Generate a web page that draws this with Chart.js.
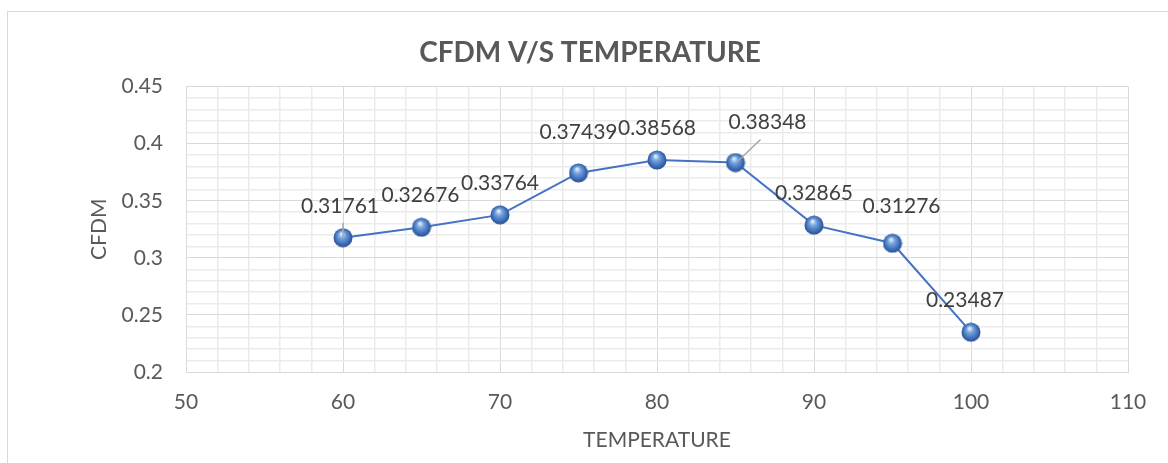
<!DOCTYPE html>
<html>
<head>
<meta charset="utf-8">
<script src="https://cdn.jsdelivr.net/npm/chart.js@4"></script>
<style>
  html, body { margin: 0; padding: 0; background: #fff; }
  #wrap { width: 1168px; height: 463px; }
</style>
</head>
<body>
<div id="wrap"><canvas id="cfdmChart" width="1168" height="463"></canvas></div>
<script>
const temperatures = [60, 65, 70, 75, 80, 85, 90, 95, 100];
const cfdmValues = [0.31761, 0.32676, 0.33764, 0.37439, 0.38568, 0.38348, 0.32865, 0.31276, 0.23487];
const valueLabels = ["0.31761", "0.32676", "0.33764", "0.37439", "0.38568", "0.38348", "0.32865", "0.31276", "0.23487"];

// label nudges (px) where Excel moved a label off its default spot
const labelNudge = [[-3, 0], [-1, 0], [0, 0], [0, -9], [0, 0], [32, -8], [0, 0], [9, -5], [-6, 0]];
const leaderIdx = [0, 5];

const FONT = "Lato, 'Open Sans', sans-serif";
const TEXT = "#595959";

function makeSphere(size) {
  const c = document.createElement("canvas");
  c.width = size; c.height = size;
  const g = c.getContext("2d");
  const r = size / 2;
  const grad = g.createRadialGradient(r * 0.85, r * 0.6, 0.5, r, r, r);
  grad.addColorStop(0, "#e6f0fc");
  grad.addColorStop(0.3, "#78a6e0");
  grad.addColorStop(0.75, "#3a6bb4");
  grad.addColorStop(1, "#264c88");
  g.fillStyle = grad;
  g.beginPath();
  g.arc(r, r, r - 0.5, 0, Math.PI * 2);
  g.fill();
  return c;
}

const frame = {
  id: "frame",
  beforeDraw(chart) {
    const ctx = chart.ctx;
    ctx.save();
    ctx.strokeStyle = "#d9d9d9";
    ctx.lineWidth = 1;
    ctx.strokeRect(7.5, 11.5, 1300, 600);
    ctx.restore();
  }
};

const dataLabels = {
  id: "dataLabels",
  afterDatasetsDraw(chart) {
    const ctx = chart.ctx;
    const pts = chart.getDatasetMeta(0).data;
    ctx.save();
    ctx.font = "21px " + FONT;
    ctx.fillStyle = "#404040";
    ctx.textAlign = "center";
    ctx.textBaseline = "middle";
    pts.forEach((p, i) => {
      const lx = p.x + labelNudge[i][0];
      const ly = p.y - 32 + labelNudge[i][1];
      if (leaderIdx.includes(i)) {
        ctx.strokeStyle = "#a6a6a6";
        ctx.lineWidth = 1.5;
        ctx.beginPath();
        if (i === 0) {
          ctx.moveTo(p.x, ly + 17);
          ctx.lineTo(p.x, p.y);
        } else {
          ctx.moveTo(lx - 7, ly + 17);
          ctx.lineTo(p.x + 2, p.y - 1);
        }
        ctx.stroke();
      }
      ctx.fillText(valueLabels[i], lx, ly);
    });
    ctx.restore();
  }
};

const isMajorX = v => Math.round(v) % 10 === 0;
const isMajorY = v => Math.round(v * 100) % 5 === 0;

new Chart(document.getElementById("cfdmChart").getContext("2d"), {
  type: "scatter",
  data: {
    datasets: [{
      label: "CFDM",
      data: temperatures.map((t, i) => ({ x: t, y: cfdmValues[i] })),
      showLine: true,
      borderColor: "#4472c4",
      borderWidth: 2,
      pointStyle: makeSphere(20),
      pointRadius: 10,
      tension: 0
    }]
  },
  options: {
    responsive: false,
    animation: false,
    layout: { padding: { left: 52, top: 0, right: 40, bottom: 0 } },
    plugins: {
      legend: { display: false },
      tooltip: { enabled: false },
      title: {
        display: true,
        text: "CFDM V/S TEMPERATURE",
        color: TEXT,
        font: { family: FONT, size: 28, weight: "bold" },
        padding: { top: 36, bottom: 17 }
      }
    },
    scales: {
      x: {
        type: "linear",
        min: 50,
        max: 110,
        afterFit: s => { s.height = 91; },
        ticks: {
          stepSize: 2,
          autoSkip: false,
          maxRotation: 0,
          padding: 18,
          color: TEXT,
          font: { family: FONT, size: 21 },
          callback: v => isMajorX(v) ? String(Math.round(v)) : ""
        },
        grid: {
          drawTicks: false,
          color: ctx => isMajorX(ctx.tick.value) ? "#d9d9d9" : "#ebebeb",
          lineWidth: ctx => isMajorX(ctx.tick.value) ? 1 : 1.5
        },
        border: { color: "#d9d9d9" },
        title: {
          display: true,
          text: "TEMPERATURE",
          color: TEXT,
          font: { family: FONT, size: 21 },
          padding: { top: 0, bottom: 10 }
        }
      },
      y: {
        min: 0.2,
        max: 0.45,
        afterFit: s => { s.width = 134; },
        ticks: {
          stepSize: 0.01,
          autoSkip: false,
          maxTicksLimit: 100,
          padding: 23,
          color: TEXT,
          font: { family: FONT, size: 21 },
          callback: v => isMajorY(v) ? String(parseFloat(v.toFixed(2))) : ""
        },
        grid: {
          drawTicks: false,
          color: ctx => isMajorY(ctx.tick.value) ? "#d9d9d9" : "#ebebeb",
          lineWidth: ctx => isMajorY(ctx.tick.value) ? 1 : 1.5
        },
        border: { color: "#d9d9d9" },
        title: {
          display: true,
          text: "CFDM",
          color: TEXT,
          font: { family: FONT, size: 21 },
          padding: { top: 35, bottom: 0 }
        }
      }
    }
  },
  plugins: [frame, dataLabels]
});
</script>
</body>
</html>
